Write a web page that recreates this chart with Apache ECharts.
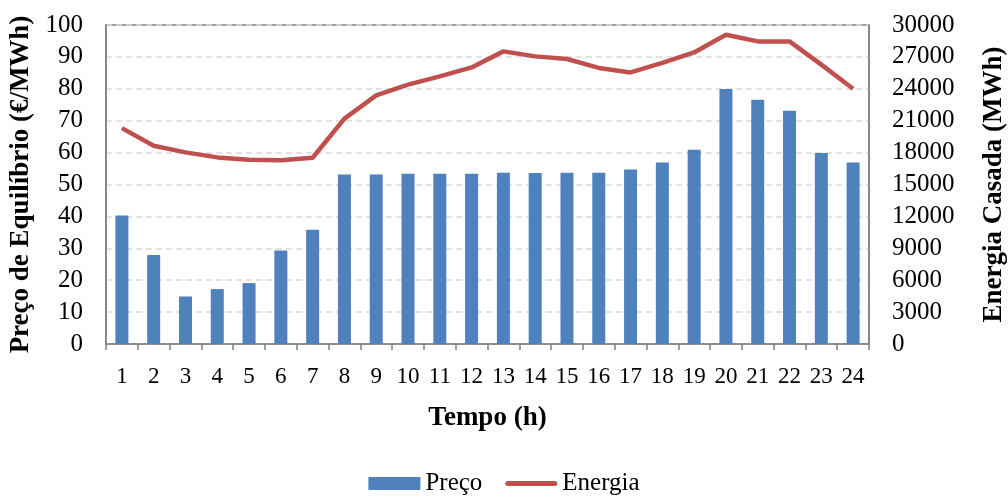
<!DOCTYPE html>
<html>
<head>
<meta charset="utf-8">
<title>Preço e Energia</title>
<script src="https://cdn.jsdelivr.net/npm/echarts@6/dist/echarts.min.js"></script>
</head>
<body style="margin:0;background:#fff">
<div id="chart" style="width:1008px;height:501px"></div>
<script type="text/javascript">
// horas do dia
var horas = ['1','2','3','4','5','6','7','8','9','10','11','12','13','14','15','16','17','18','19','20','21','22','23','24'];
// preço de equilíbrio (€/MWh)
var preco = [40.3, 27.9, 14.9, 17.2, 19.1, 29.3, 35.8, 53.1, 53.1, 53.4, 53.4, 53.4, 53.7, 53.6, 53.7, 53.7, 54.7, 56.9, 60.9, 79.9, 76.6, 73.1, 59.9, 56.9];
// energia casada (MWh)
var energia = [20300, 18650, 18020, 17550, 17330, 17270, 17520, 21190, 23380, 24390, 25170, 26010, 27520, 27050, 26800, 25960, 25540, 26430, 27420, 29090, 28460, 28460, 26270, 24010];

var fonte = 'Liberation Serif';
var myChart = echarts.init(document.getElementById('chart'));

// nome dos eixos em negrito
var nomeEixo = { fontFamily: fonte, fontSize: 27, fontWeight: 'bold', color: '#000' };

myChart.setOption({
  animation: false,
  textStyle: { fontFamily: fonte, color: '#000' },
  grid: {
    left: 106, right: 139, top: 25, bottom: 157,
    outerBoundsMode: 'none', containLabel: false,
    show: true, borderColor: '#808080', borderWidth: 1.5
  },
  legend: {
    bottom: 0,
    left: 'center',
    itemWidth: 52,
    itemHeight: 13,
    itemGap: 23,
    textStyle: { fontFamily: fonte, fontSize: 25, color: '#000' },
    data: [
      { name: 'Preço', icon: 'rect' },
      { name: 'Energia', icon: 'path://M2.5,0 L49.5,0 A2.5,2.5 0 0 1 49.5,5 L2.5,5 A2.5,2.5 0 0 1 2.5,0 Z' }
    ]
  },
  xAxis: {
    type: 'category',
    data: horas,
    name: 'Tempo (h)',
    nameLocation: 'middle',
    nameGap: 61,
    nameTextStyle: nomeEixo,
    axisLine: { lineStyle: { color: '#808080', width: 1.5 } },
    axisTick: { show: true, length: 6, lineStyle: { color: '#808080', width: 1.5 } },
    axisLabel: { fontFamily: fonte, fontSize: 23, color: '#000', margin: 21, interval: 0 }
  },
  yAxis: [
    {
      type: 'value',
      min: 0, max: 100, interval: 10,
      name: 'Preço de Equilíbrio (€/MWh)',
      nameLocation: 'middle',
      nameGap: 67,
      nameTextStyle: nomeEixo,
      axisLine: { show: true, lineStyle: { color: '#808080', width: 1.5 } },
      axisTick: { show: false },
      axisLabel: { fontFamily: fonte, fontSize: 25, color: '#000', margin: 23 },
      splitLine: { lineStyle: { color: '#d9d9d9', width: 1.5, type: [6, 4] } }
    },
    {
      type: 'value',
      min: 0, max: 30000, interval: 3000,
      name: 'Energia Casada (MWh)',
      nameLocation: 'middle',
      nameGap: 112,
      nameTextStyle: nomeEixo,
      axisLine: { show: true, lineStyle: { color: '#808080', width: 1.5 } },
      axisTick: { show: false },
      axisLabel: {
        fontFamily: fonte, fontSize: 25, color: '#000', margin: 23,
        formatter: function (v) { return String(v); }
      },
      splitLine: { show: false }
    }
  ],
  series: [
    {
      name: 'Preço',
      type: 'bar',
      data: preco,
      barWidth: 13,
      itemStyle: { color: '#4f81bd' }
    },
    {
      name: 'Energia',
      type: 'line',
      yAxisIndex: 1,
      data: energia,
      symbol: 'none',
      lineStyle: { color: '#c0504d', width: 4.5 },
      itemStyle: { color: '#c0504d' }
    }
  ]
});
</script>
</body>
</html>
